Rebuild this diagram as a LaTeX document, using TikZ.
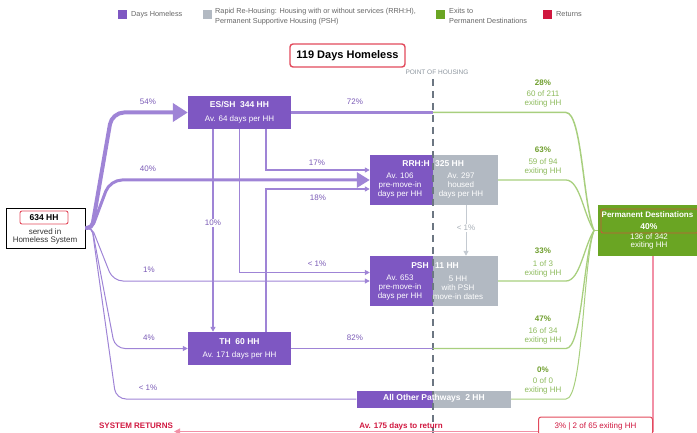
\documentclass[tikz,border=0pt]{standalone}
\usepackage{fontspec}
\setmainfont{Liberation Sans}
\usetikzlibrary{arrows.meta}
\definecolor{hlpurple}{HTML}{7E57C2}
\definecolor{flowpurple}{HTML}{9F84D6}
\definecolor{pctpurple}{HTML}{7A5AB6}
\definecolor{hsgrey}{HTML}{B2B9C2}
\definecolor{hsline}{HTML}{C4CAD1}
\definecolor{greytxt}{HTML}{A7AEB6}
\definecolor{dashgrey}{HTML}{6C7682}
\definecolor{pohgrey}{HTML}{8B949D}
\definecolor{pdgreen}{HTML}{6AA523}
\definecolor{exgreen}{HTML}{A8CF7E}
\definecolor{pctgreen}{HTML}{6F9E2D}
\definecolor{subgreen}{HTML}{8DBA5C}
\definecolor{retred}{HTML}{D0173F}
\definecolor{retline}{HTML}{F290A6}
\definecolor{frame}{HTML}{E24A5C}
\definecolor{permframe}{HTML}{C75B3A}
\definecolor{legendgrey}{HTML}{666666}
\definecolor{darktext}{HTML}{333333}
\begin{document}
\begin{tikzpicture}
		[	x=1pt,y=1pt,
		font=\fontsize{8}{9}\selectfont,
		every node/.style={inner sep=0pt},
		stay/.style={rectangle,fill=hlpurple},
		housed/.style={rectangle,fill=hsgrey},
		boxtxt/.style={text=white,align=center},
		boldtxt/.style={text=white,font=\fontsize{8.5}{9}\selectfont\bfseries},
		pct/.style={text=pctpurple},
		exitpct/.style={text=pctgreen,font=\fontsize{8}{9}\selectfont\bfseries},
		exitsub/.style={text=subgreen,align=center,font=\fontsize{8}{8.5}\selectfont},
		legtext/.style={text=legendgrey,font=\fontsize{7.3}{10}\selectfont,align=left},
		flow/.style={draw=flowpurple},
		exit/.style={draw=exgreen,line width=1.3pt},
		smalltip/.style={-{Triangle[length=5pt,width=5pt]}},
		]
		\useasboundingbox (0,0) rectangle (697,-433);

		% legend
		\fill[hlpurple] (118,-10) rectangle ++(9,-9);
		\node[legtext,anchor=west] (lg1) at (131,-14.5) {Days Homeless};
		\fill[hsgrey] (203,-10) rectangle ++(9,-9);
		\node[legtext,anchor=north west] (lg2) at (215,-8.5) {Rapid Re-Housing: Housing with or without services (RRH:H),\\Permanent Supportive Housing (PSH)};
		\fill[pdgreen] (436,-10) rectangle ++(9,-9);
		\node[legtext,anchor=north west] (lg3) at (449,-8.5) {Exits to\\Permanent Destinations};
		\fill[retred] (543,-10) rectangle ++(9,-9);
		\node[legtext,anchor=west] (lg4) at (556,-14.5) {Returns};

		\node[draw=frame,line width=1.4pt,rounded corners=3pt,fill=white,minimum width=115,minimum height=23,font=\fontsize{11}{12}\selectfont\bfseries] (days) at (347.5,-55.5) {119 Days Homeless};
		\node[text=pohgrey,font=\fontsize{6.5}{7}\selectfont] (pohlbl) at (437,-72) {POINT OF HOUSING};
		\coordinate (ptop) at (433,-79);
		\coordinate (pbot) at (433,-433);

		% source
		\node[draw=black,line width=0.8pt,minimum width=79,minimum height=40] (src) at (45.5,-228) {};
		\node[draw=frame,line width=0.9pt,rounded corners=2pt,minimum width=48,minimum height=13,font=\fontsize{8.5}{9}\selectfont\bfseries] (srchh) at (44,-217.5) {634 HH};
		\node[text=darktext,align=center,font=\fontsize{8}{8.5}\selectfont] (srctxt) at (45,-236.5) {served in\\Homeless System};

		% boxes
		\node[stay,minimum width=103,minimum height=33] (es) at (239.5,-112.5) {};
		\node[stay,minimum width=103,minimum height=33] (th) at (239.5,-348.5) {};
		\node[stay,minimum width=63,minimum height=50] (rrhP) at (401.5,-180) {};
		\node[housed,minimum width=65,minimum height=50] (rrhG) at (465.5,-180) {};
		\node[stay,minimum width=63,minimum height=50] (pshP) at (401.5,-281) {};
		\node[housed,minimum width=65,minimum height=50] (pshG) at (465.5,-281) {};
		\node[stay,minimum width=77,minimum height=17] (othP) at (395,-399) {};
		\node[housed,minimum width=78,minimum height=17] (othG) at (472,-399) {};
		\node[rectangle,fill=pdgreen,minimum width=99,minimum height=51] (perm) at (647.5,-230.5) {};

		\draw[draw=dashgrey,line width=2.4pt,dash pattern=on 7pt off 5pt] (ptop) -- (pbot);

		% box texts
		\node[boldtxt] (estitle) at (239.5,-105) {ES/SH\ \ 344 HH};
		\node[boxtxt] (essub) at (239.5,-119) {Av. 64 days per HH};
		\node[boldtxt] (thtitle) at (239.5,-342) {TH\ \ 60 HH};
		\node[boxtxt] (thsub) at (239.5,-355) {Av. 171 days per HH};
		\node[boldtxt,anchor=east] (rrhtl) at (430,-164) {RRH:H};
		\node[boldtxt,anchor=west] (rrhtr) at (435,-164) {325 HH};
		\node[boxtxt] (rrhpre) at (400,-186) {Av. 106\\pre-move-in\\days per HH};
		\node[boxtxt] (rrhhsd) at (461,-186) {Av. 297\\housed\\days per HH};
		\node[boldtxt,anchor=east] (pshtl) at (429,-266) {PSH};
		\node[boldtxt,anchor=west] (pshtr) at (435,-266) {11 HH};
		\node[boxtxt] (pshpre) at (400,-288) {Av. 653\\pre-move-in\\days per HH};
		\node[boxtxt] (pshmv) at (458,-288) {5 HH\\with PSH\\move-in dates};
		\node[boldtxt] (othtxt) at (434,-398.5) {All Other Pathways\ \ 2 HH};
		\node[draw=permframe,line width=0.9pt,rounded corners=2pt,minimum width=97,minimum height=24] (permfr) at (649.5,-221) {};
		\node[text=white,font=\fontsize{8}{9}\selectfont\bfseries] (permttl) at (647.5,-215) {Permanent Destinations};
		\node[boldtxt] (permpct) at (649,-227) {40\%};
		\node[boxtxt,font=\fontsize{8}{8.5}\selectfont] (permsub) at (649,-241.5) {136 of 342\\exiting HH};

		% entries
		\coordinate (hub) at (92,-228);
		\draw[flow,line width=4pt,rounded corners=5pt,-{Triangle[length=15pt,width=18pt]}] (src.east) -- (hub) [rounded corners=12pt] -- (112,-112.5) -- (es.west);
		\draw[flow,line width=3pt,rounded corners=5pt,-{Triangle[length=13pt,width=15pt]}] (src.east) -- (hub) [rounded corners=12pt] -- (110,-180) -- (rrhP.west);
		\draw[flow,line width=1pt,rounded corners=5pt,smalltip] (src.east) -- (hub) [rounded corners=10pt] -- (113,-281) -- (pshP.west);
		\draw[flow,line width=1pt,rounded corners=5pt,smalltip] (src.east) -- (hub) [rounded corners=10pt] -- (115,-348.5) -- (th.west);
		\draw[flow,line width=1pt,rounded corners=5pt] (src.east) -- (hub) [rounded corners=10pt] -- (116,-399) -- (othP.west);
		\node[pct] (p54) at (148,-102) {54\%};
		\node[pct] (p40) at (148,-169) {40\%};
		\node[pct] (p1) at (149,-270) {1\%};
		\node[pct] (p4) at (149,-338) {4\%};
		\node[pct] (plt1) at (148,-388) {< 1\%};

		% moves between stays
		\draw[flow,line width=1.3pt,smalltip] (213,0 |- es.south) -- (213,0 |- th.north);
		\node[pct,fill=white,inner sep=1.5pt] (p10) at (213,-223) {10\%};
		\draw[flow,line width=1pt,smalltip] (239,0 |- es.south) |- (pshP.west |- 0,-272.5);
		\draw[flow,line width=1.8pt,smalltip] (266,0 |- es.south) |- (rrhP.west |- 0,-170);
		\draw[flow,line width=1.8pt,smalltip] (266,0 |- th.north) |- (rrhP.west |- 0,-189);
		\node[pct] (p17) at (317,-163) {17\%};
		\node[pct] (p18) at (318,-198) {18\%};
		\node[pct] (plt1b) at (317,-264) {< 1\%};
		\draw[flow,line width=3pt] (es.east) -- (es.east -| ptop) coordinate (es72);
		\draw[flow,line width=1.2pt] (th.east) -- (th.east -| ptop) coordinate (th82);
		\node[pct] (p72) at (355,-102) {72\%};
		\node[pct] (p82) at (355,-338) {82\%};
		\draw[draw=hsline,line width=1pt,smalltip] (466,0 |- rrhG.south) -- (466,0 |- pshG.north);
		\node[fill=white,text=greytxt,inner sep=1.5pt] (g1) at (466,-228) {< 1\%};

		% exits
		\coordinate (phub) at (594,-230.5);
		\draw[exit] (phub) -- (perm.west);
		\draw[exit,line width=1.5pt] (es72) -- (566,-112.5) .. controls (582,-112.5) and (583,-205) .. (phub);
		\draw[exit] (rrhG.east) -- (566,-180) .. controls (580,-180) and (584,-216) .. (phub);
		\draw[exit] (pshG.east) -- (566,-281) .. controls (580,-281) and (584,-246) .. (phub);
		\draw[exit] (th82) -- (566,-348.5) .. controls (582,-348.5) and (583,-258) .. (phub);
		\draw[exit,line width=1pt] (othG.east) -- (566,-399) .. controls (583,-399) and (583,-262) .. (phub);
		\node[exitpct] (e28) at (543,-82.5) {28\%};
		\node[exitsub] (e28s) at (543,-99) {60 of 211\\exiting HH};
		\node[exitpct] (e63) at (543,-150) {63\%};
		\node[exitsub] (e63s) at (543,-167) {59 of 94\\exiting HH};
		\node[exitpct] (e33) at (543,-251) {33\%};
		\node[exitsub] (e33s) at (543,-269) {1 of 3\\exiting HH};
		\node[exitpct] (e47) at (543,-319) {47\%};
		\node[exitsub] (e47s) at (543,-336) {16 of 34\\exiting HH};
		\node[exitpct] (e0) at (543,-370) {0\%};
		\node[exitsub] (e0s) at (543,-386) {0 of 0\\exiting HH};

		% returns
		\node[text=retred,font=\fontsize{8}{9}\selectfont\bfseries] (sysret) at (136,-426) {SYSTEM RETURNS};
		\draw[draw=retline,line width=1.5pt,-{Triangle[length=6pt,width=6pt]}] (653,0 |- perm.south) |- ([xshift=1pt]sysret.east |- 0,-431.5);
		\node[text=retred,font=\fontsize{8}{9}\selectfont\bfseries] (avret) at (401,-426) {Av. 175 days to return};
		\node[draw=frame,line width=1pt,rounded corners=2.5pt,fill=white,minimum width=114,minimum height=18,text=retred] (retbox) at (595.5,-426) {3\% | 2 of 65 exiting HH};
	\end{tikzpicture}
\end{document}
